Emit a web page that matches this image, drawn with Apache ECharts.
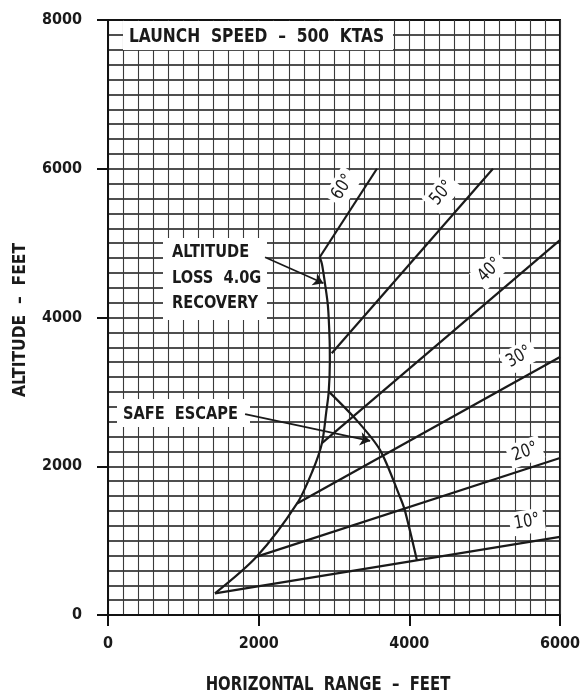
<!DOCTYPE html>
<html>
<head>
<meta charset="utf-8">
<script src="https://cdn.jsdelivr.net/npm/echarts@6/dist/echarts.min.js"></script>
<style>
html,body{margin:0;padding:0;background:#fff;}
#main{width:583px;height:696px;}
</style>
</head>
<body>
<div id="main"></div>
<script>
// ---- data (feet) ----
const xTickLabels = [0, 2000, 4000, 6000];
const yTickLabels = [0, 2000, 4000, 6000, 8000];
const angleLabels = ['10°', '20°', '30°', '40°', '50°', '60°'];
const line10 = [[1420, 290], [6000, 1050]];
const line20 = [[1975, 785], [6000, 2110]];
const line30 = [[2510, 1500], [6000, 3470]];
const line40 = [[2840, 2310], [6000, 5040]];
const line50 = [[2970, 3520], [5110, 6000]];
const line60 = [[2810, 4810], [3570, 6000]];
const altitudeLoss = [[1420, 290], [1975, 785], [2510, 1500], [2720, 1950], [2840, 2310], [2900, 2750], [2930, 3000], [2945, 3400], [2942, 3700], [2920, 4150], [2880, 4460], [2840, 4720], [2810, 4810]];
const safeEscape = [[2935, 3000], [3300, 2620], [3610, 2220], [3875, 1590], [3940, 1410], [4100, 740]];
const altitudeArrow = [[2085, 4810], [2860, 4460]];
const safeArrow = [[1820, 2700], [3480, 2340]];
const titleText = 'LAUNCH  SPEED  –  500  KTAS';
const altitudeText = 'ALTITUDE\nLOSS  4.0G\nRECOVERY';
const safeText = 'SAFE  ESCAPE';
const xName = 'HORIZONTAL  RANGE  –  FEET';
const yName = 'ALTITUDE  –  FEET';

const FONT = "'Liberation Sans Narrow','DejaVu Sans Condensed','Roboto Condensed',sans-serif";
const INK = '#1a1a1a';

const chart = echarts.init(document.getElementById('main'), null, {renderer: 'canvas'});

const xMax = xTickLabels[xTickLabels.length - 1];
const yMax = yTickLabels[yTickLabels.length - 1];

function lineSeries(data, width, smooth) {
  return {
    type: 'line', xAxisIndex: 0, yAxisIndex: 0, data: data,
    showSymbol: false, symbol: 'none', smooth: smooth || false,
    lineStyle: {color: INK, width: width}, z: 4, silent: true, animation: false
  };
}
const plainNum = function (v) { return String(v); };

const option = {
  animation: false,
  backgroundColor: '#fff',
  grid: {left: 108, right: 23, top: 20, bottom: 81, show: true, borderColor: '#111', borderWidth: 2, backgroundColor: 'transparent'},
  xAxis: [
    {type: 'value', min: 0, max: xMax, interval: 200, position: 'bottom',
     axisLine: {show: false}, axisTick: {show: false}, axisLabel: {show: false},
     splitLine: {show: true, lineStyle: {color: '#3a3a3a', width: 1.1}}},
    {type: 'value', min: 0, max: xMax, interval: 2000, position: 'bottom',
     axisLine: {show: true, lineStyle: {color: '#111', width: 2}},
     axisTick: {show: true, inside: false, length: 11, lineStyle: {color: '#111', width: 2}},
     axisLabel: {show: true, margin: 21, color: INK, fontFamily: FONT, fontWeight: 'bold', fontSize: 16, formatter: plainNum},
     splitLine: {show: false}}
  ],
  yAxis: [
    {type: 'value', min: 0, max: yMax, interval: 200, position: 'left',
     axisLine: {show: false}, axisTick: {show: false}, axisLabel: {show: false},
     splitLine: {show: true, lineStyle: {color: '#151515', width: 1.6}}},
    {type: 'value', min: 0, max: yMax, interval: 2000, position: 'left',
     axisLine: {show: true, lineStyle: {color: '#111', width: 2}},
     axisTick: {show: true, inside: false, length: 11, lineStyle: {color: '#111', width: 2}},
     axisLabel: {show: true, margin: 26, color: INK, fontFamily: FONT, fontWeight: 'bold', fontSize: 16, formatter: plainNum},
     splitLine: {show: false}}
  ],
  series: [
    lineSeries(line10, 2.2),
    lineSeries(line20, 2.2),
    lineSeries(line30, 2.2),
    lineSeries(line40, 2.2),
    lineSeries(line50, 2.2),
    lineSeries(line60, 2.2),
    lineSeries(altitudeLoss, 2.2, 0.3),
    lineSeries(safeEscape, 2.2, 0.3),
    {
      type: 'lines', coordinateSystem: 'cartesian2d', xAxisIndex: 0, yAxisIndex: 0,
      symbol: ['none', 'arrow'], symbolSize: 10, silent: true, z: 5,
      lineStyle: {color: INK, width: 1.8, opacity: 1},
      data: [{coords: altitudeArrow}, {coords: safeArrow}]
    }
  ],
  graphic: []
};

chart.setOption(option);

function box(x, y, w, h) {
  return {type: 'rect', z: 3, silent: true, shape: {x: x, y: y, width: w, height: h}, style: {fill: '#fff'}};
}
function txt(text, x, y, size, opts) {
  opts = opts || {};
  return {
    type: 'text', z: 6, silent: true, x: x, y: y, rotation: opts.rot || 0,
    scaleX: opts.sx || 1, scaleY: 1, originX: 0, originY: 0,
    style: {
      text: text, font: (opts.weight || 'bold') + ' ' + size + 'px ' + FONT, fill: INK,
      align: opts.align || 'left', verticalAlign: 'middle', lineHeight: opts.lh || size,
      backgroundColor: opts.bg || null, padding: opts.pad || 0
    }
  };
}

const g = [];
// launch speed title
g.push(box(123, 21, 270, 29));
g.push(txt(titleText, 129, 37, 20, {sx: 0.86}));
// altitude loss box
g.push(box(163, 238, 104, 82));
g.push(txt(altitudeText, 172, 278, 18, {lh: 25.5, sx: 0.9}));
// safe escape box
g.push(box(117, 399, 133, 28));
g.push(txt(safeText, 123, 414, 18, {sx: 0.9}));
// axis titles
g.push(txt(xName, 328, 685, 19, {align: 'center', sx: 0.87}));
g.push(txt(yName, 20, 320, 18, {align: 'center', rot: Math.PI / 2, sx: 0.96}));
// angle labels
const anglePos = [[527, 522, 10], [525, 452, 20], [519, 357, 30], [490, 270, 45], [442, 193, 50], [343, 187, 58]];
angleLabels.forEach(function (lab, i) {
  const p = anglePos[i];
  g.push(txt(lab, p[0], p[1], 18, {rot: p[2] * Math.PI / 180, align: 'center', weight: 'normal', bg: '#fff', pad: [3, 5, 3, 5], sx: 0.9}));
});
chart.setOption({graphic: g});
</script>
</body>
</html>
